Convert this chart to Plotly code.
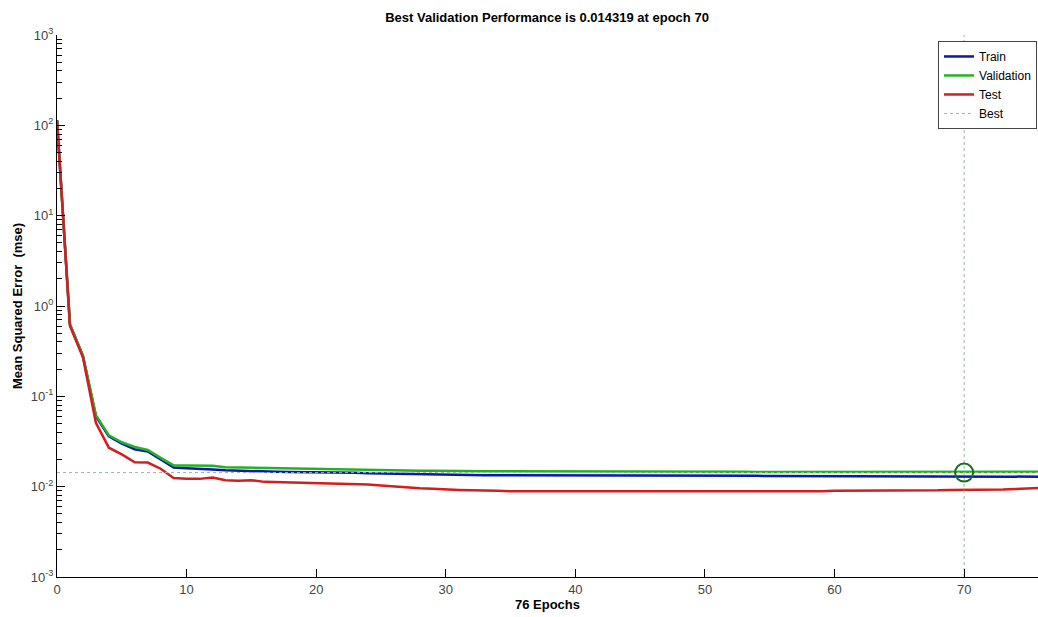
import plotly.graph_objects as go

# Performance per epoch
epochs = list(range(0, 77))

train_mse = [114, 0.62, 0.28, 0.060, 0.036, 0.030, 0.026, 0.0245, 0.0200, 0.0163,
             0.0160, 0.0156, 0.0155, 0.0152, 0.0150, 0.0148, 0.0147, 0.0146, 0.0145, 0.0145,
             0.0144, 0.0144, 0.0143, 0.0143, 0.0141, 0.0140, 0.0139, 0.0138, 0.0137, 0.0137,
             0.0136, 0.0135, 0.0135, 0.0134, 0.0134, 0.0134, 0.0133, 0.0133, 0.0133, 0.0133,
             0.0133, 0.0133, 0.0133, 0.0133, 0.0132, 0.0132, 0.0132, 0.0132, 0.0132, 0.0132,
             0.0132, 0.0132, 0.0132, 0.0132, 0.0132, 0.0131, 0.0131, 0.0130, 0.0130, 0.0130,
             0.0130, 0.0130, 0.0130, 0.0130, 0.0130, 0.0130, 0.0130, 0.0129, 0.0129, 0.0129,
             0.0129, 0.0129, 0.0129, 0.0129, 0.0129, 0.0129, 0.0129]

val_mse = [114, 0.63, 0.28, 0.062, 0.037, 0.031, 0.0275, 0.0255, 0.0208, 0.0172,
           0.0172, 0.0171, 0.0170, 0.0164, 0.0163, 0.0162, 0.0160, 0.0158, 0.0157, 0.0157,
           0.0156, 0.0156, 0.0155, 0.0155, 0.0153, 0.0152, 0.0151, 0.0151, 0.0150, 0.0150,
           0.0149, 0.0149, 0.0149, 0.0148, 0.0148, 0.0148, 0.0148, 0.0148, 0.0148, 0.0147,
           0.0147, 0.0147, 0.0147, 0.0147, 0.0147, 0.0147, 0.0146, 0.0146, 0.0146, 0.0146,
           0.0146, 0.0146, 0.0146, 0.0146, 0.0145, 0.0145, 0.0145, 0.0145, 0.0145, 0.0145,
           0.0145, 0.0144, 0.0144, 0.0144, 0.0144, 0.0144, 0.0144, 0.01435, 0.01435, 0.01435,
           0.014319, 0.01435, 0.0144, 0.0144, 0.0145, 0.0145, 0.0146]

test_mse = [114, 0.60, 0.27, 0.051, 0.027, 0.0228, 0.0186, 0.0185, 0.0158, 0.0125,
            0.0122, 0.0122, 0.0126, 0.0118, 0.0116, 0.0118, 0.0113, 0.0112, 0.0111, 0.0111,
            0.0110, 0.0110, 0.0109, 0.0108, 0.0106, 0.0103, 0.0100, 0.0098, 0.0096, 0.0095,
            0.0093, 0.0092, 0.0091, 0.0091, 0.0090, 0.0089, 0.0089, 0.0089, 0.0089, 0.0088,
            0.0088, 0.0088, 0.0088, 0.0088, 0.0088, 0.0088, 0.0088, 0.0088, 0.0088, 0.0088,
            0.0089, 0.0089, 0.0089, 0.0089, 0.0089, 0.0089, 0.0089, 0.0089, 0.0089, 0.0089,
            0.0090, 0.0090, 0.0090, 0.0090, 0.0090, 0.0091, 0.0091, 0.0091, 0.0091, 0.0092,
            0.0092, 0.0092, 0.0093, 0.0093, 0.0094, 0.0095, 0.0097]

best_epoch = 70
best_perf = 0.014319

x_ticks = [0, 10, 20, 30, 40, 50, 60, 70]
y_ticks = [1e-3, 1e-2, 1e-1, 1e0, 1e1, 1e2, 1e3]
y_ticktext = ["10<sup>-3</sup>", "10<sup>-2</sup>", "10<sup>-1</sup>", "10<sup>0</sup>",
              "10<sup>1</sup>", "10<sup>2</sup>", "10<sup>3</sup>"]

# minor ticks 2..9 per decade
y_minor = [m * d for d in y_ticks[:-1] for m in range(2, 10)]

FONT = "Liberation Sans, Arial, sans-serif"

fig = go.Figure()

fig.add_trace(go.Scatter(x=epochs, y=train_mse, mode="lines", name="Train",
                         line=dict(color="#0b16b4", width=2.5)))
fig.add_trace(go.Scatter(x=epochs, y=val_mse, mode="lines", name="Validation",
                         line=dict(color="#22b322", width=2.5)))
fig.add_trace(go.Scatter(x=epochs, y=test_mse, mode="lines", name="Test",
                         line=dict(color="#d41e1e", width=2.5)))

# best lines: vertical at best epoch, horizontal at best performance
fig.add_trace(go.Scatter(x=[best_epoch, best_epoch, None, 0, 77],
                         y=[1e-3, 1e3, None, best_perf, best_perf],
                         mode="lines", name="Best",
                         line=dict(color="#9cb89c", width=1, dash="dot")))
fig.add_trace(go.Scatter(x=[best_epoch], y=[best_perf], mode="markers", showlegend=False,
                         marker=dict(symbol="circle-open", size=18, color="#15701a",
                                     line=dict(color="#15701a", width=2))))

fig.update_layout(
    width=1038, height=617,
    margin=dict(l=57, r=0, t=35, b=40),
    plot_bgcolor="white", paper_bgcolor="white",
    font=dict(family=FONT, size=13, color="#444444"),
    title=dict(text="<b>Best Validation Performance is 0.014319 at epoch 70</b>",
               x=0.527, xanchor="center", y=0.972, yanchor="middle",
               font=dict(size=13, color="black")),
    xaxis=dict(range=[0, 75.7], tickvals=x_ticks, ticks="inside", ticklen=8,
               tickcolor="black", showline=True, linecolor="black", linewidth=1,
               showgrid=False, zeroline=False, automargin=False,
               title=dict(text="<b>76 Epochs</b>", standoff=2,
                          font=dict(size=13, color="black"))),
    yaxis=dict(type="log", range=[-3, 3], tickvals=y_ticks, ticktext=y_ticktext,
               ticks="inside", ticklen=8, tickcolor="black",
               minor=dict(tickvals=y_minor, ticks="inside", ticklen=5, tickcolor="black"),
               showline=True, linecolor="black", linewidth=1,
               showgrid=False, zeroline=False, automargin=False,
               title=dict(text="<b>Mean Squared Error  (mse)</b>", standoff=5,
                          font=dict(size=13, color="black"))),
    legend=dict(x=0.999, y=0.989, xanchor="right", yanchor="top",
                bgcolor="white", bordercolor="#444444", borderwidth=1,
                font=dict(size=12, color="black"), tracegroupgap=0),
)

# drop the page's default body margin so the figure sits at the window's corner
fig.write_html("out.html", config={"displayModeBar": False},
               post_script="document.body.style.margin='0';document.body.style.overflow='hidden';")
